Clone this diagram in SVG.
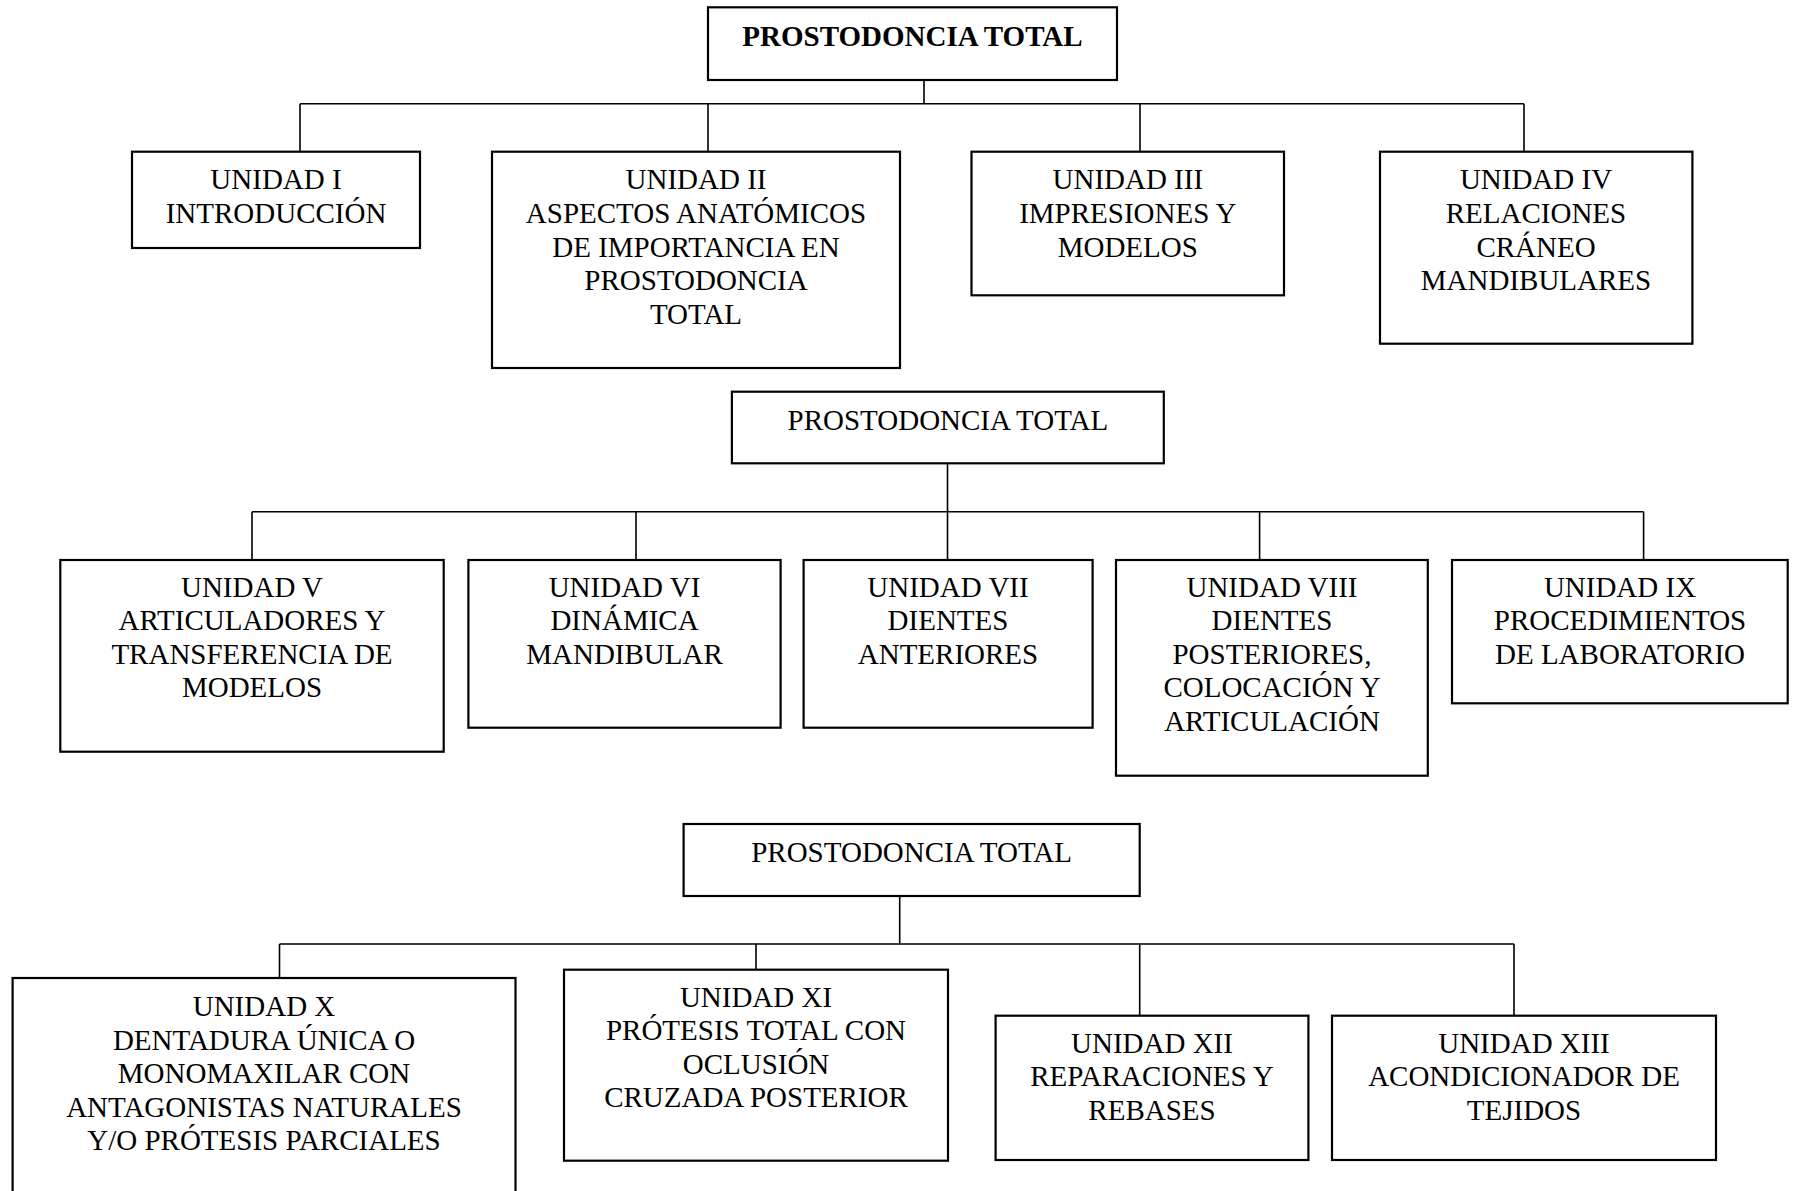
<svg xmlns="http://www.w3.org/2000/svg" width="1794" height="1191" viewBox="0 0 1794 1191">
  <style>
    .box { fill: #ffffff; stroke: #000000; stroke-width: 2.2; }
    .link { fill: none; stroke: #000000; stroke-width: 1.6; }
    text { font-family: "Liberation Serif", "Times New Roman", serif; font-size: 29px; fill: #000000; text-anchor: middle; }
    .bold { font-weight: bold; }
  </style>
  <rect width="1794" height="1191" fill="#ffffff"/>

  <!-- connectors -->
  <g id="connectors">
    <!-- tree 1 -->
    <path class="link" d="M924 80 V103.7 M300 103.7 H1524 M300 103.7 V151.7 M708 103.7 V151.7 M1140 103.7 V151.7 M1524 103.7 V151.7"/>
    <!-- tree 2 -->
    <path class="link" d="M947.5 463.3 V560 M252 511.7 H1643.6 M252 511.7 V560 M636 511.7 V560 M1259.6 511.7 V560 M1643.6 511.7 V560"/>
    <!-- tree 3 -->
    <path class="link" d="M899.7 896 V944 M279.5 944 H1514 M279.5 944 V978 M756 944 V969.7 M1139.7 944 V1015.7 M1514 944 V1015.7"/>
  </g>

  <!-- tree 1 -->
  <g id="root1">
    <rect class="box" x="708" y="7.3" width="409" height="72.7"/>
    <text class="bold" x="912.5" y="46">PROSTODONCIA TOTAL</text>
  </g>
  <g id="unidad1">
    <rect class="box" x="132" y="151.7" width="288" height="96.3"/>
    <text x="276" y="189">UNIDAD I</text>
    <text x="276" y="222.7">INTRODUCCIÓN</text>
  </g>
  <g id="unidad2">
    <rect class="box" x="492" y="151.7" width="408" height="216.3"/>
    <text x="696" y="189">UNIDAD II</text>
    <text x="696" y="222.7">ASPECTOS ANATÓMICOS</text>
    <text x="696" y="256.5">DE IMPORTANCIA EN</text>
    <text x="696" y="290.2">PROSTODONCIA</text>
    <text x="696" y="324">TOTAL</text>
  </g>
  <g id="unidad3">
    <rect class="box" x="971.5" y="151.7" width="312.5" height="143.6"/>
    <text x="1127.8" y="189">UNIDAD III</text>
    <text x="1127.8" y="222.7">IMPRESIONES Y</text>
    <text x="1127.8" y="256.5">MODELOS</text>
  </g>
  <g id="unidad4">
    <rect class="box" x="1380" y="151.7" width="312.4" height="192"/>
    <text x="1536" y="189">UNIDAD IV</text>
    <text x="1536" y="222.7">RELACIONES</text>
    <text x="1536" y="256.5">CRÁNEO</text>
    <text x="1536" y="290.2">MANDIBULARES</text>
  </g>

  <!-- tree 2 -->
  <g id="root2">
    <rect class="box" x="731.9" y="391.7" width="431.9" height="71.6"/>
    <text x="947.9" y="430">PROSTODONCIA TOTAL</text>
  </g>
  <g id="unidad5">
    <rect class="box" x="60.3" y="560" width="383.4" height="191.7"/>
    <text x="252" y="596.7">UNIDAD V</text>
    <text x="252" y="630.2">ARTICULADORES Y</text>
    <text x="252" y="663.7">TRANSFERENCIA DE</text>
    <text x="252" y="697.2">MODELOS</text>
  </g>
  <g id="unidad6">
    <rect class="box" x="468.4" y="560" width="312.2" height="167.7"/>
    <text x="624.5" y="596.7">UNIDAD VI</text>
    <text x="624.5" y="630.2">DINÁMICA</text>
    <text x="624.5" y="663.7">MANDIBULAR</text>
  </g>
  <g id="unidad7">
    <rect class="box" x="803.6" y="560" width="289" height="167.7"/>
    <text x="948" y="596.7">UNIDAD VII</text>
    <text x="948" y="630.2">DIENTES</text>
    <text x="948" y="663.7">ANTERIORES</text>
  </g>
  <g id="unidad8">
    <rect class="box" x="1116" y="560" width="311.8" height="215.7"/>
    <text x="1272" y="596.7">UNIDAD VIII</text>
    <text x="1272" y="630.2">DIENTES</text>
    <text x="1272" y="663.7">POSTERIORES,</text>
    <text x="1272" y="697.2">COLOCACIÓN Y</text>
    <text x="1272" y="730.7">ARTICULACIÓN</text>
  </g>
  <g id="unidad9">
    <rect class="box" x="1452" y="560" width="335.7" height="143.3"/>
    <text x="1620" y="596.7">UNIDAD IX</text>
    <text x="1620" y="630.2">PROCEDIMIENTOS</text>
    <text x="1620" y="663.7">DE LABORATORIO</text>
  </g>

  <!-- tree 3 -->
  <g id="root3">
    <rect class="box" x="683.6" y="824" width="456.1" height="72"/>
    <text x="911.6" y="861.7">PROSTODONCIA TOTAL</text>
  </g>
  <g id="unidad10">
    <rect class="box" x="12.6" y="978" width="502.9" height="225"/>
    <text x="264" y="1016">UNIDAD X</text>
    <text x="264" y="1049.5">DENTADURA ÚNICA O</text>
    <text x="264" y="1083">MONOMAXILAR CON</text>
    <text x="264" y="1116.5">ANTAGONISTAS NATURALES</text>
    <text x="264" y="1150">Y/O PRÓTESIS PARCIALES</text>
  </g>
  <g id="unidad11">
    <rect class="box" x="564" y="969.7" width="384" height="191"/>
    <text x="756" y="1006.7">UNIDAD XI</text>
    <text x="756" y="1040.2">PRÓTESIS TOTAL CON</text>
    <text x="756" y="1073.7">OCLUSIÓN</text>
    <text x="756" y="1107.2">CRUZADA POSTERIOR</text>
  </g>
  <g id="unidad12">
    <rect class="box" x="995.6" y="1015.7" width="312.8" height="144.3"/>
    <text x="1152" y="1052.7">UNIDAD XII</text>
    <text x="1152" y="1086.2">REPARACIONES Y</text>
    <text x="1152" y="1119.7">REBASES</text>
  </g>
  <g id="unidad13">
    <rect class="box" x="1332" y="1015.7" width="384" height="144.3"/>
    <text x="1524" y="1052.7">UNIDAD XIII</text>
    <text x="1524" y="1086.2">ACONDICIONADOR DE</text>
    <text x="1524" y="1119.7">TEJIDOS</text>
  </g>
</svg>
